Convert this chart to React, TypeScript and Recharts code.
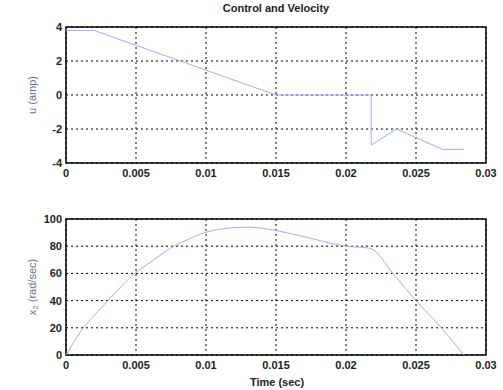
import { LineChart, Line, XAxis, YAxis, CartesianGrid, ReferenceArea } from "recharts";

// time axis ticks shared by both panels
const timeTicks = [0, 0.005, 0.01, 0.015, 0.02, 0.025, 0.03];

// control signal u (amp)
const uTime = [0, 0.002, 0.015, 0.0218, 0.0218, 0.0236, 0.0269, 0.0284];
const uAmp = [3.8, 3.8, 0, 0, -2.95, -2.0, -3.2, -3.2];
const uTicks = [-4, -2, 0, 2, 4];

// velocity x2 (rad/sec)
const velTime = [0, 0.0005, 0.00124, 0.002, 0.003, 0.004, 0.0049, 0.006, 0.0077, 0.0085, 0.0099, 0.011, 0.013, 0.015, 0.017, 0.02, 0.0217, 0.0235, 0.025, 0.0269, 0.0284];
const velVals = [0, 8.5, 20, 29, 40, 51, 60, 68, 80, 84, 90, 92.5, 94, 91.5, 87, 80, 78.5, 58, 40, 19, 0];
const velTicks = [0, 20, 40, 60, 80, 100];

const uData = uTime.map((t, i) => ({ t, v: uAmp[i] }));
const velData = velTime.map((t, i) => ({ t, v: velVals[i] }));

const font = "'Liberation Sans', Arial, sans-serif";
const tickStyle = { fontSize: 11, fontWeight: "bold", fill: "#222", fontFamily: font };
const lineColor = "#a2a8ff";

const fmt = (v: number) => String(v);

function YLabel({ x, y, text, sub }: { x: number; y: number; text: string; sub?: string }) {
    return (
        <text
            x={x}
            y={y}
            transform={`rotate(-90 ${x} ${y})`}
            textAnchor="middle"
            dominantBaseline="middle"
            fontSize={11}
            fontFamily={font}
            fill="#66708c"
        >
            {sub ? (
                <>
                    {text}
                    <tspan fontSize={8} dy={3}>{sub}</tspan>
                    <tspan dy={-3}>{" (rad/sec)"}</tspan>
                </>
            ) : (
                text
            )}
        </text>
    );
}

export default function App() {
    return (
        <div style={{ position: "absolute", left: 0, top: 0, width: 503, height: 390, background: "#fff" }}>
            <LineChart width={503} height={195} data={uData} margin={{ top: 27, right: 17, left: 0, bottom: 0 }}>
                <text x={276} y={12} textAnchor="middle" fontSize={11} fontWeight="bold" fontFamily={font} fill="#222">
                    Control and Velocity
                </text>
                <CartesianGrid stroke="#000" strokeDasharray="2 3" />
                <XAxis
                    dataKey="t"
                    type="number"
                    domain={[0, 0.03]}
                    ticks={timeTicks}
                    tickFormatter={fmt}
                    tick={tickStyle}
                    tickLine={false}
                    axisLine={false}
                    tickSize={2}
                    tickMargin={4}
                    height={32}
                    interval={0}
                />
                <YAxis
                    type="number"
                    domain={[-4, 4]}
                    ticks={uTicks}
                    tick={tickStyle}
                    tickLine={false}
                    axisLine={false}
                    tickSize={2}
                    tickMargin={2}
                    width={66}
                    interval={0}
                    label={<YLabel x={36} y={95} text="u (amp)" />}
                />
                <ReferenceArea x1={0} x2={0.03} y1={-4} y2={4} fill="none" stroke="#000" strokeWidth={1.5} />
                <Line dataKey="v" stroke={lineColor} strokeWidth={1} dot={false} isAnimationActive={false} />
            </LineChart>
            <LineChart width={503} height={195} data={velData} margin={{ top: 24, right: 17, left: 0, bottom: 0 }}>
                <CartesianGrid stroke="#000" strokeDasharray="2 3" />
                <XAxis
                    dataKey="t"
                    type="number"
                    domain={[0, 0.03]}
                    ticks={timeTicks}
                    tickFormatter={fmt}
                    tick={tickStyle}
                    tickLine={false}
                    axisLine={false}
                    tickSize={2}
                    tickMargin={4}
                    height={35}
                    interval={0}
                />
                <YAxis
                    type="number"
                    domain={[0, 100]}
                    ticks={velTicks}
                    tick={tickStyle}
                    tickLine={false}
                    axisLine={false}
                    tickSize={2}
                    tickMargin={2}
                    width={66}
                    interval={0}
                    label={<YLabel x={27} y={92} text="x" sub="2" />}
                />
                <ReferenceArea x1={0} x2={0.03} y1={0} y2={100} fill="none" stroke="#000" strokeWidth={1.5} />
                <Line type="monotone" dataKey="v" stroke={lineColor} strokeWidth={1} dot={false} isAnimationActive={false} />
                <text x={277} y={191} textAnchor="middle" fontSize={11} fontWeight="bold" fontFamily={font} fill="#222">
                    Time (sec)
                </text>
            </LineChart>
        </div>
    );
}
